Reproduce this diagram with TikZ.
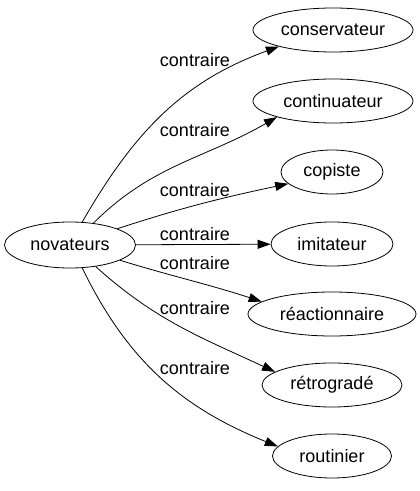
\documentclass[tikz,border=0pt]{standalone}
\usepackage{fontspec}
\setmainfont{Liberation Sans}
\usetikzlibrary{arrows.meta,shapes.geometric}

\begin{document}
\begin{tikzpicture}[x=1pt, y=1pt, >={Triangle[length=13pt,width=9pt]}, line join=round,
  mot/.style={draw, ellipse, inner sep=0pt, minimum height=44pt, line width=0.8pt,
    font=\fontsize{18}{21}\selectfont},
  lien/.style={->, line width=0.8pt},
  etiq/.style={inner sep=0pt, font=\fontsize{18}{21}\selectfont}]
  \useasboundingbox (0,0) rectangle (420,491);

  % mot de depart
  \node[mot, minimum width=131pt, minimum height=46pt] (nov) at (70,246) {novateurs};

  % mots contraires
  \node[mot, minimum width=160pt] (cons) at (333,461) {conservateur};
  \node[mot, minimum width=160pt] (cont) at (333,390) {continuateur};
  \node[mot, minimum width=102pt] (cop) at (332,319) {copiste};
  \node[mot, minimum width=122pt] (imi) at (332,247) {imitateur};
  \node[mot, minimum width=168pt] (rea) at (332,177) {réactionnaire};
  \node[mot, minimum width=140pt] (ret) at (332,106) {rétrogradé};
  \node[mot, minimum width=119pt] (rou) at (332,35) {routinier};

  % liens
  \draw[lien] (nov.62) to[out=60, in=200] (cons.197);
  \draw[lien] (nov.43) to[out=45, in=210] (cont.196);
  \draw[lien] (nov.19) to[out=18, in=192] (cop.195);
  \draw[lien] (nov) -- (imi);
  \draw[lien] (nov.-17) to[out=-17, in=162] (rea.170);
  \draw[lien] (nov.-40) to[out=-42, in=155] (ret.167);
  \draw[lien] (nov.-62) to[out=-64, in=158] (rou.170);

  % etiquettes
  \node[etiq] (e1) at (195,431) {contraire};
  \node[etiq] (e2) at (195,361) {contraire};
  \node[etiq] (e3) at (195,301) {contraire};
  \node[etiq] (e4) at (195,257) {contraire};
  \node[etiq] (e5) at (195,228) {contraire};
  \node[etiq] (e6) at (195,183) {contraire};
  \node[etiq] (e7) at (195,123) {contraire};
\end{tikzpicture}
\end{document}
